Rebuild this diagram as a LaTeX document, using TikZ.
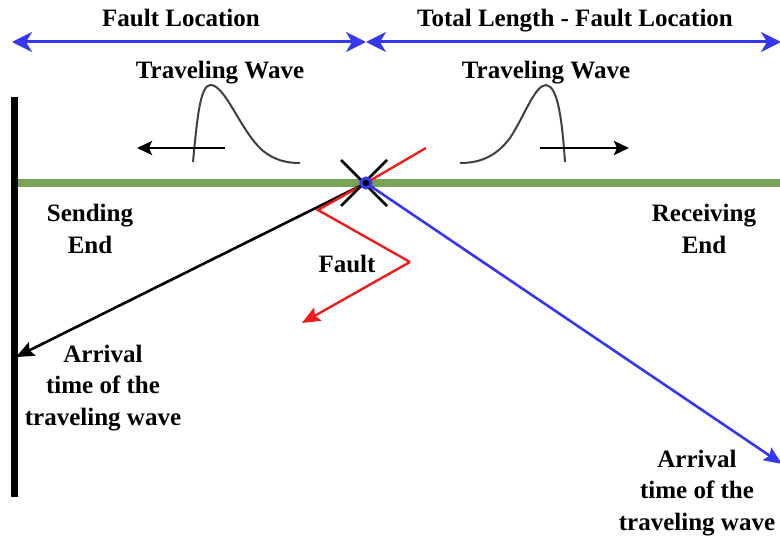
\documentclass[tikz,border=0pt]{standalone}
\usepackage{fontspec}
\setmainfont{Liberation Serif}
\usetikzlibrary{arrows.meta}
\definecolor{myblue}{RGB}{55,55,240}
\definecolor{myred}{RGB}{235,30,30}
\definecolor{mygreen}{RGB}{120,162,85}
\begin{document}
\begin{tikzpicture}[x=1pt,y=-1pt,
  lbl/.style={font=\fontsize{25}{31.5}\selectfont\bfseries, inner sep=0pt, align=center},
  dimarrow/.style={myblue, line width=3pt, {Stealth[length=20pt,width=20pt,inset=6pt]}-{Stealth[length=20pt,width=20pt,inset=6pt]}},
  wavearrow/.style={black, line width=2.8pt, -{Stealth[length=15pt,width=14pt,inset=3pt]}},
  pulse/.style={draw=black!75, line width=2pt},
  ray/.style={line width=2.6pt, -{Stealth[length=18pt,width=15pt,inset=3pt]}}
]
\useasboundingbox (0,0) rectangle (780,540);
% coordinates
\coordinate (F) at (366,183);
\coordinate (dimL) at (12,42);
\coordinate (dimM) at (366,42);
\coordinate (dimR) at (781,42);
% dimension arrows
\draw[dimarrow] (dimL) -- (dimM);
\draw[dimarrow] (dimM) -- (dimR);
\node[lbl, anchor=base] (tFL) at (181,27) {Fault Location};
\node[lbl, anchor=base] (tTL) at (575,27) {Total Length - Fault Location};
% sending end bar
\coordinate (barT) at (14,97);
\coordinate (barB) at (14,497);
\draw[line width=7pt] (barT) -- (barB);
% line
\coordinate (lineL) at (18,183);
\coordinate (lineR) at (781,183);
\draw[mygreen, line width=8pt] (lineL) -- (lineR);
% traveling waves
\node[lbl, anchor=base] (tw1) at (220,79) {Traveling Wave};
\node[lbl, anchor=base] (tw2) at (546,79) {Traveling Wave};
\draw[pulse] (193,162) .. controls (197,120) and (200,86) .. (210,85)
  .. controls (225,84) and (240,130) .. (262,150) .. controls (275,161) and (288,163) .. (300,163);
\draw[pulse] (565,162) .. controls (562,120) and (558,86) .. (546,85)
  .. controls (535,85) and (525,115) .. (510,138) .. controls (495,158) and (478,163) .. (460,163);
\coordinate (wa1s) at (225,148);
\coordinate (wa1e) at (137,148);
\coordinate (wa2s) at (540,148);
\coordinate (wa2e) at (629,148);
\draw[wavearrow] (wa1s) -- (wa1e);
\draw[wavearrow] (wa2s) -- (wa2e);
% rays
\coordinate (arrL) at (16,357);
\coordinate (arrR) at (782,464);
\draw[ray, black] (F) -- (arrL);
\draw[ray, myblue] (F) -- (arrR);
% fault zigzag
\coordinate (r0) at (426,148);
\coordinate (r1) at (318,210);
\coordinate (r2) at (410,262);
\coordinate (r3) at (302,323);
\draw[myred, line width=2.4pt] (r0) -- (F) -- (r1) -- (r2);
\draw[myred, line width=2.4pt, -{Stealth[length=18pt,width=15pt,inset=3pt]}] (r2) -- (r3);
% X mark
\draw[black, line width=2.6pt] (341,160) -- (387,206) (387,160) -- (341,206);
\filldraw[fill=black, draw=myblue, line width=3pt] (F) circle (5pt);
% labels
\node[lbl] (send) at (90,229) {Sending\\End};
\node[lbl] (recv) at (704,229) {Receiving\\End};
\node[lbl, anchor=base] (fault) at (347,273) {Fault};
\node[lbl] (arr1) at (103,388) {Arrival\\time of the\\traveling wave};
\node[lbl] (arr2) at (697,493) {Arrival\\time of the\\traveling wave};
\end{tikzpicture}
\end{document}
